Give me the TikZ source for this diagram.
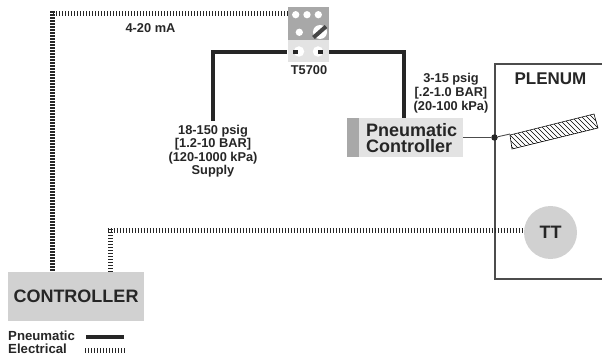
\documentclass[tikz,border=0pt]{standalone}
\usepackage{fontspec}
\setmainfont{Liberation Sans}
\definecolor{lg}{gray}{0.82}
\definecolor{vlg}{gray}{0.89}
\definecolor{mg}{gray}{0.66}
\definecolor{ink}{gray}{0.15}
\tikzset{
 x=1pt,y=-1pt,
 pneu/.style={draw=ink,line width=3.8pt},
 elec/.style={draw=ink,line width=5pt,dash pattern=on 1.1pt off 1.9pt},
 thin line/.style={draw=black!70,line width=1.3pt},
 lab/.style={font=\bfseries\fontsize{12.8}{14}\selectfont,text=ink,align=center,inner sep=0pt},
 big/.style={font=\bfseries\fontsize{18}{16.5}\selectfont,text=ink,inner sep=0pt},
 hole/.style={circle,fill=white,minimum size=7.3pt,inner sep=0pt},
}
\begin{document}
\begin{tikzpicture}
\useasboundingbox (0,0) rectangle (602,358);
% plenum
\draw[thin line] (602,64) -- (495,64) -- (495,279) -- (602,279);
% boxes
\node[fill=lg,minimum width=136pt,minimum height=49pt,inner sep=0pt,anchor=north west] (ctrl) at (8,272) {};
\node[big] at (76,296.5) {CONTROLLER};
\node[fill=mg,minimum width=41pt,minimum height=33pt,inner sep=0pt,anchor=north west] (t) at (288,7) {};
\node[fill=vlg,minimum width=41pt,minimum height=22pt,inner sep=0pt,anchor=north west] (tb) at (288,40) {};
% electrical
\coordinate (e1) at (52,14); \coordinate (e2) at (110,228);
\coordinate (ctl) at (52,272); \coordinate (ctr) at (110,272);
\draw[elec] (t.west |- e1) -- (e1);
\draw[elec] (52,11.5) -- (ctl);
\draw[elec] (ctr) -- (e2);
\draw[elec] (107.5,230) -- (525,230);
% pneumatic
\coordinate (pl) at (213,121); \coordinate (pr) at (404,119);
\draw[pneu] (pl) |- (287,52);
\draw[pneu] (329,52) -| (pr);
% T5700
\foreach \p in {(295.7,14.7),(307,14.7),(318.3,14.7),(299.3,32.3)} \node[hole] at \p {};
\node[hole,minimum size=14pt,fill=white] (s) at (320,32) {};
\draw[ink!85,line width=4pt] (313.5,37.5) -- (326,26.5);
\node[hole,minimum size=10.5pt] at (299,51.5) {};
\node[hole,minimum size=10.5pt] at (318,51.5) {};
\draw[pneu] (293,52) -- (298,52);
\draw[pneu] (318,52) -- (323,52);
\node[lab] at (309,70) {T5700};
% pneumatic controller
\node[fill=vlg,minimum width=116pt,minimum height=39pt,inner sep=0pt,anchor=north west] (pc) at (347,118) {};
\fill[mg] (347,118) rectangle (359,157);
\node[big,align=left,anchor=west] at (366,138) {Pneumatic\\Controller};
% damper
\node[circle,fill=ink,minimum size=6.5pt,inner sep=0pt] (dot) at (494.5,137.5) {};
\draw[thin line] (pc.east |- dot) -- (dot);
\draw[thin line,line width=.9pt] (dot) -- (510,134);
\begin{scope}
\clip (510,135) -- (594,114) -- (598,128) -- (512,149) -- cycle;
\foreach \i in {440,445,...,600} \draw[black,line width=.55pt] (\i,100) -- (\i+55,155);
\end{scope}
\draw[black,line width=.6pt] (510,135) -- (594,114) -- (598,128) -- (512,149) -- cycle;
% TT
\node[circle,fill=lg,minimum size=53pt,inner sep=0pt] (tt) at (550.5,232.5) {};
\node[lab,font=\bfseries\fontsize{18}{18}\selectfont] at (550.5,232.5) {TT};
% labels
\node[lab,font=\bfseries\fontsize{17}{18}\selectfont] at (550.5,79) {PLENUM};
\node[lab] at (451,93.5) {3-15 psig\\{[}.2-1.0 BAR{]}\\(20-100 kPa)};
\node[lab] at (150.5,28) {4-20 mA};
\node[lab,font=\bfseries\fontsize{12.8}{13.5}\selectfont] at (213,151) {18-150 psig\\{[}1.2-10 BAR{]}\\(120-1000 kPa)\\Supply};
% legend
\node[lab,anchor=west,align=left,font=\bfseries\fontsize{13.2}{13}\selectfont] at (8,342.5) {Pneumatic\\Electrical};
\coordinate (l1) at (86,337); \coordinate (l2) at (124,337);
\coordinate (l3) at (85,350.5); \coordinate (l4) at (126,350.5);
\draw[pneu] (l1) -- (l2);
\draw[elec] (l3) -- (l4);
\end{tikzpicture}
\end{document}
